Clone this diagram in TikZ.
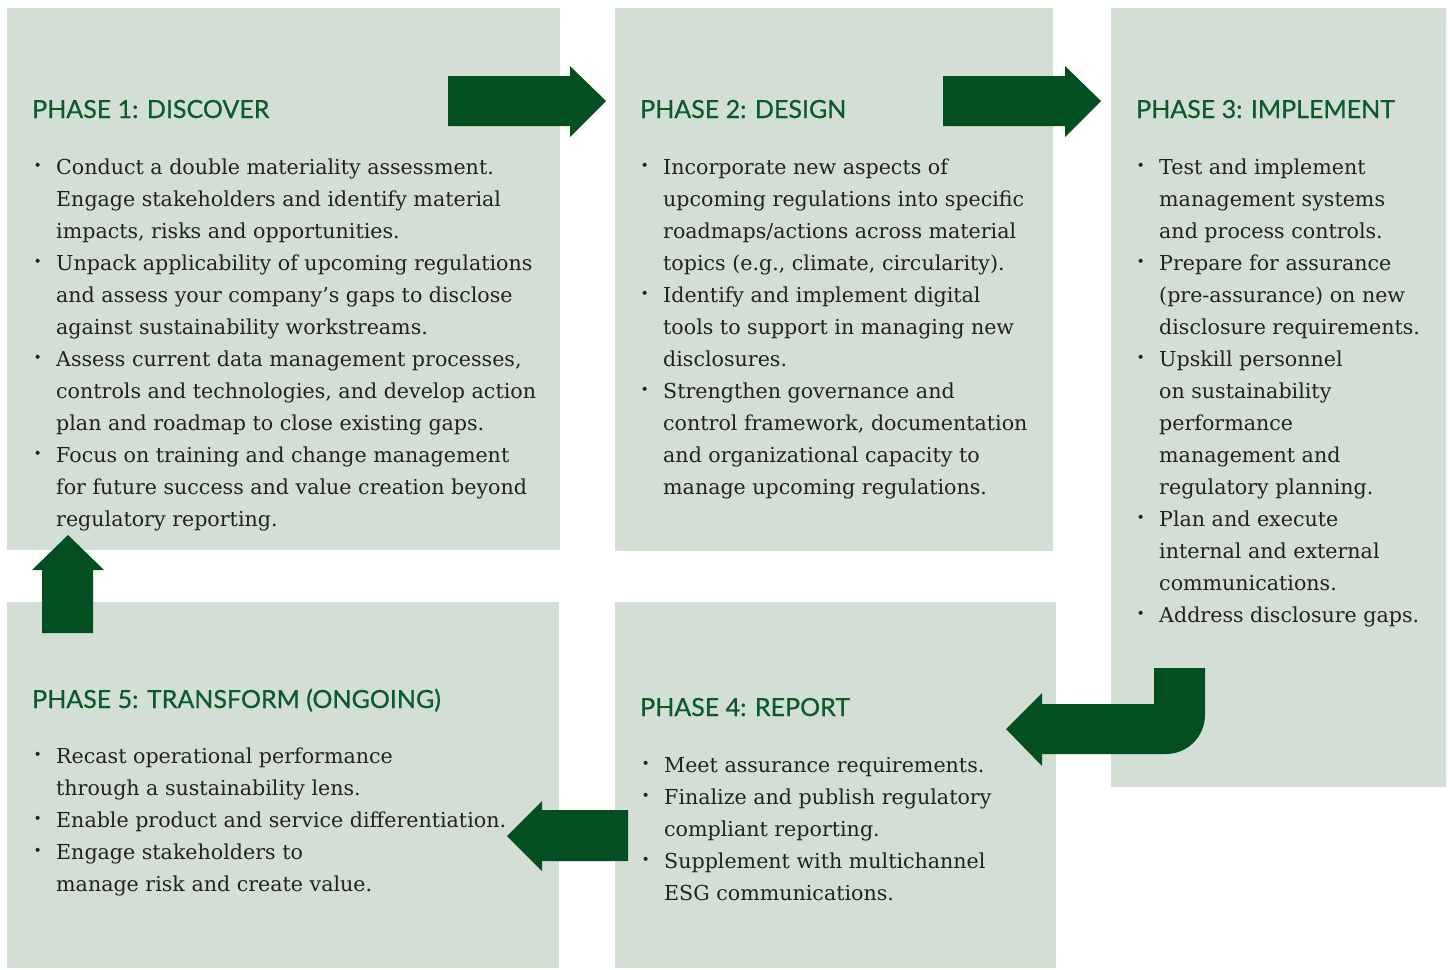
\documentclass[tikz,border=0pt]{standalone}
\usepackage{fontspec}
\setmainfont{DejaVu Serif}
\newfontfamily\headfont{Lato}[FakeBold=0.6]
\newfontfamily\bulfont{DejaVu Sans}
\definecolor{boxfill}{HTML}{D3DED5}
\definecolor{arrowgreen}{HTML}{034F22}
\definecolor{headgreen}{HTML}{0B5B2B}
\definecolor{bodytext}{HTML}{222222}
\newcommand\bul{\makebox[23pt][l]{\hspace*{0.5pt}\raisebox{3.8pt}{\bulfont\fontsize{14}{14}\selectfont •}}}
\newcommand\bodyfont{\fontsize{20.6}{32}\selectfont}
\begin{document}
\begin{tikzpicture}[x=1pt,y=-1pt,
  phasebox/.style={fill=boxfill,draw=none,inner sep=0pt,anchor=north west},
  phasehead/.style={anchor=base west,inner sep=0pt,text=headgreen,font=\headfont\fontsize{25}{30}\selectfont},
  phasebody/.style={anchor=base west,inner sep=0pt,text=bodytext,font=\bodyfont},
  blockarrow/.style={fill=arrowgreen,draw=none}]
\useasboundingbox (0,0) rectangle (1450,969);
% boxes
\node[phasebox,minimum width=553pt,minimum height=542pt] (b1) at (7,8) {};
\node[phasebox,minimum width=438pt,minimum height=543pt] (b2) at (615,8) {};
\node[phasebox,minimum width=335pt,minimum height=779pt] (b3) at (1111,8) {};
\node[phasebox,minimum width=552pt,minimum height=366pt] (b5) at (7,602) {};
\node[phasebox,minimum width=441pt,minimum height=366pt] (b4) at (615,602) {};
% headings
\node[phasehead] (h1) at (32,118) {PHASE 1: DISCOVER};
\node[phasehead] (h2) at (640,118) {PHASE 2: DESIGN};
\node[phasehead] (h3) at (1136,118) {PHASE 3: IMPLEMENT};
\node[phasehead] (h5) at (32,708) {PHASE 5: TRANSFORM (ONGOING)};
\node[phasehead] (h4) at (640,716) {PHASE 4: REPORT};
% bodies
\node[phasebody] (t1) at (33,174) {\begin{tabular}[t]{@{}l@{}l@{}}
\bul & Conduct a double materiality assessment.\\
 & Engage stakeholders and identify material\\
 & impacts, risks and opportunities.\\
\bul & Unpack applicability of upcoming regulations\\
 & and assess your company’s gaps to disclose\\
 & against sustainability workstreams.\\
\bul & Assess current data management processes,\\
 & controls and technologies, and develop action\\
 & plan and roadmap to close existing gaps.\\
\bul & Focus on training and change management\\
 & for future success and value creation beyond\\
 & regulatory reporting.
\end{tabular}};
\node[phasebody] (t2) at (640,174) {\begin{tabular}[t]{@{}l@{}l@{}}
\bul & Incorporate new aspects of\\
 & upcoming regulations into specific\\
 & roadmaps/actions across material\\
 & topics (e.g., climate, circularity).\\
\bul & Identify and implement digital\\
 & tools to support in managing new\\
 & disclosures.\\
\bul & Strengthen governance and\\
 & control framework, documentation\\
 & and organizational capacity to\\
 & manage upcoming regulations.
\end{tabular}};
\node[phasebody] (t3) at (1136,174) {\begin{tabular}[t]{@{}l@{}l@{}}
\bul & Test and implement\\
 & management systems\\
 & and process controls.\\
\bul & Prepare for assurance\\
 & (pre-assurance) on new\\
 & disclosure requirements.\\
\bul & Upskill personnel\\
 & on sustainability\\
 & performance\\
 & management and\\
 & regulatory planning.\\
\bul & Plan and execute\\
 & internal and external\\
 & communications.\\
\bul & Address disclosure gaps.
\end{tabular}};
\node[phasebody] (t5) at (33,763) {\begin{tabular}[t]{@{}l@{}l@{}}
\bul & Recast operational performance\\
 & through a sustainability lens.\\
\bul & Enable product and service differentiation.\\
\bul & Engage stakeholders to\\
 & manage risk and create value.
\end{tabular}};
\node[phasebody] (t4) at (641,772) {\begin{tabular}[t]{@{}l@{}l@{}}
\bul & Meet assurance requirements.\\
\bul & Finalize and publish regulatory\\
 & compliant reporting.\\
\bul & Supplement with multichannel\\
 & ESG communications.
\end{tabular}};
% arrows
\fill[blockarrow] (448,76) -- (570,76) -- (570,66) -- (606,101) -- (570,137) -- (570,126) -- (448,126) -- cycle;
\fill[blockarrow] (943,76) -- (1065,76) -- (1065,66) -- (1101,101) -- (1065,137) -- (1065,126) -- (943,126) -- cycle;
\fill[blockarrow] (1006,729) -- (1042,693) -- (1042,704) -- (1154,704) -- (1154,668) -- (1205,668) -- (1205,715)
  .. controls (1205,736.5) and (1187.5,754) .. (1166,754) -- (1042,754) -- (1042,766) -- cycle;
\fill[blockarrow] (628,810) -- (542,810) -- (542,801) -- (507,836) -- (542,871) -- (542,861) -- (628,861) -- cycle;
\fill[blockarrow] (42,633) -- (42,570) -- (32,570) -- (68,535) -- (104,570) -- (93,570) -- (93,633) -- cycle;
\end{tikzpicture}
\end{document}
